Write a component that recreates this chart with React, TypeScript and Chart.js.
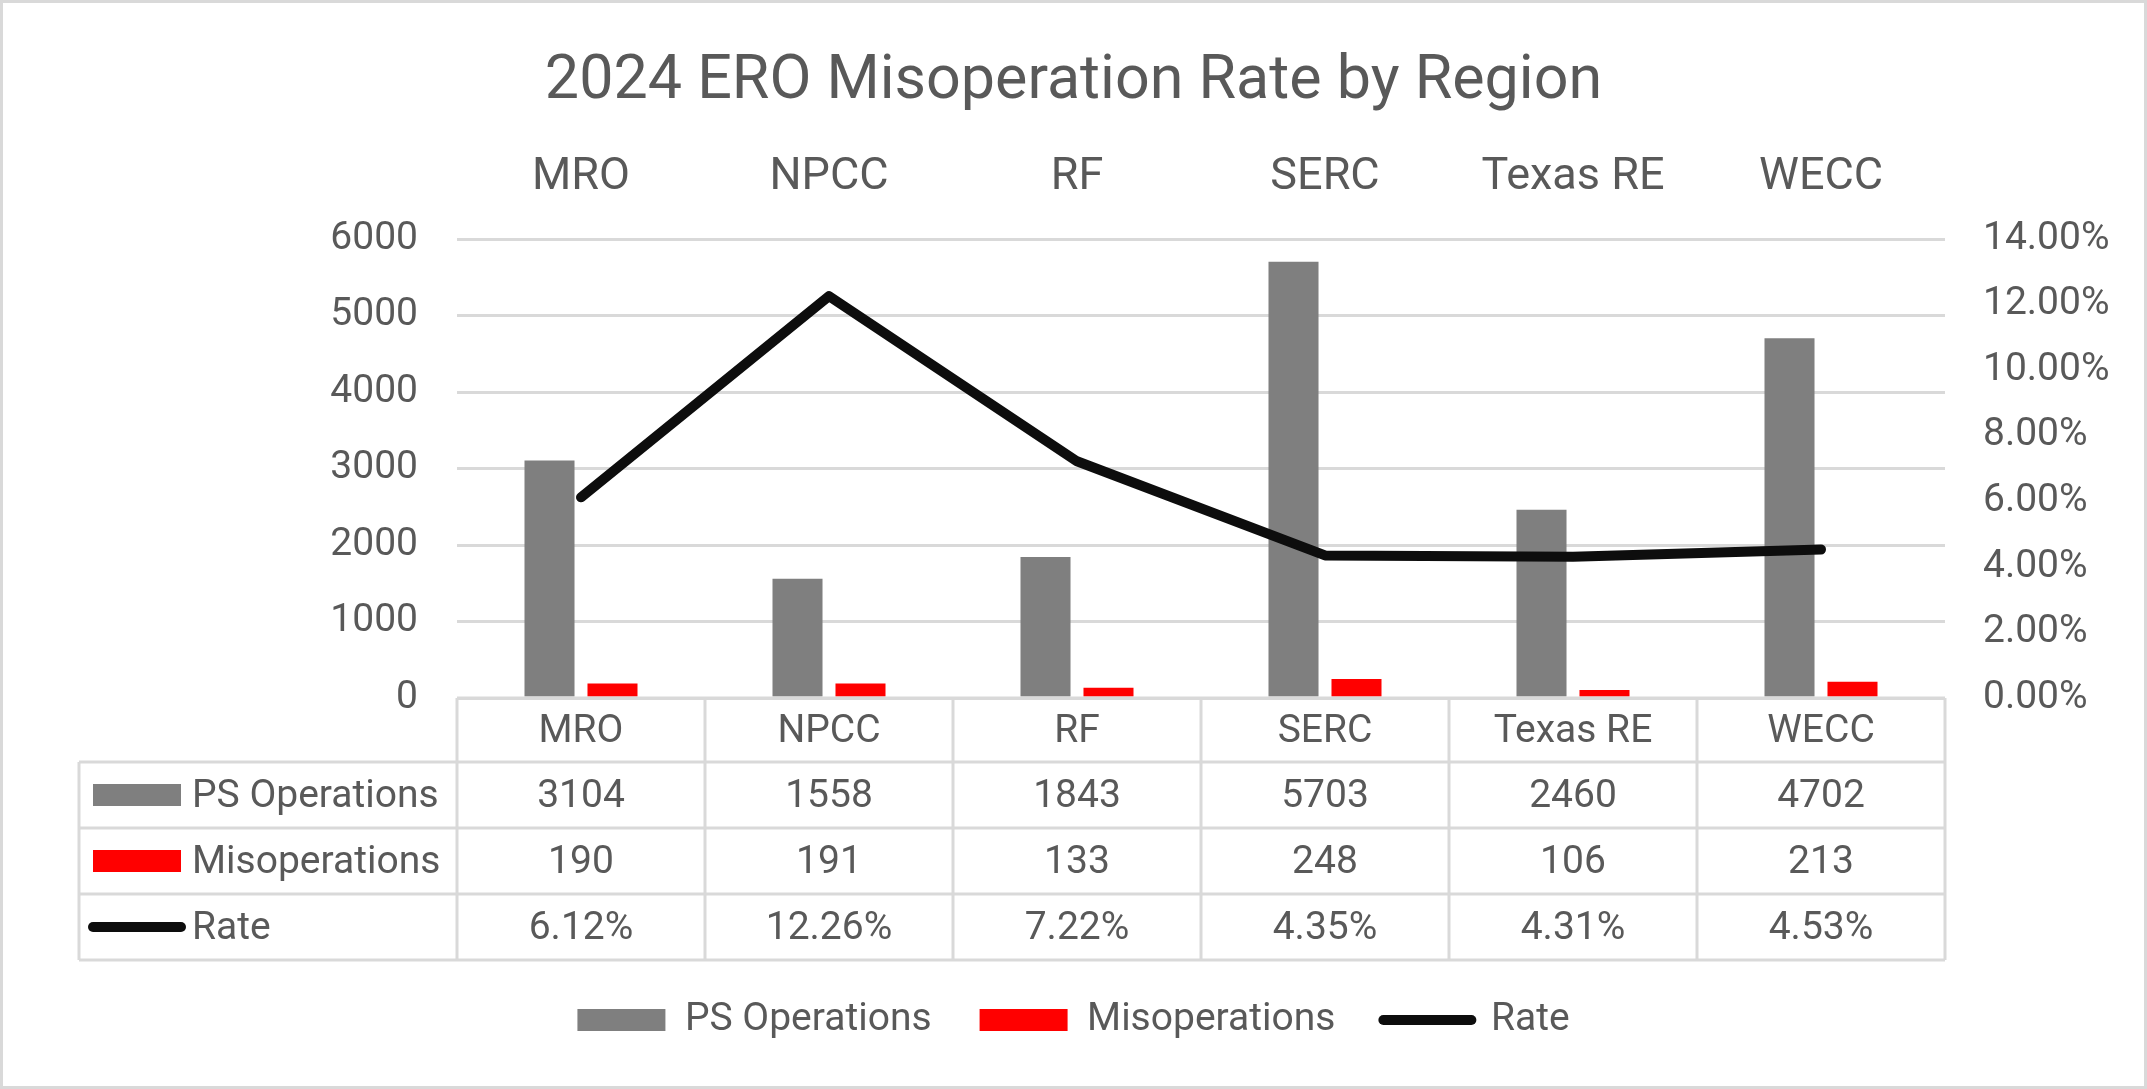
import { useEffect, useRef } from 'react'
import { Chart, registerables } from 'chart.js'

Chart.register(...registerables)
Chart.defaults.font.family = 'Roboto'

const TITLE = '2024 ERO Misoperation Rate by Region'
const REGIONS = ['MRO', 'NPCC', 'RF', 'SERC', 'Texas RE', 'WECC']
const PS_OPERATIONS = [3104, 1558, 1843, 5703, 2460, 4702]
const MISOPERATIONS = [190, 191, 133, 248, 106, 213]
const RATE = [6.12, 12.26, 7.22, 4.35, 4.31, 4.53]
const COUNT_TICKS = [0, 1000, 2000, 3000, 4000, 5000, 6000]
const RATE_TICKS = [0, 2, 4, 6, 8, 10, 12, 14]

const GRAY = '#7f7f7f'
const RED = '#ff0000'
const BLACK = '#0d0d0d'
const TEXT = '#595959'
const RULE = '#d9d9d9'
const W = 2147
const H = 1089
const BODY_SIZE = 39

const pct = (v: number) => `${v.toFixed(2)}%`

// white page + thin grey frame like the Excel chart area
const frame = {
  id: 'frame',
  beforeDraw(chart: Chart) {
    const { ctx, width, height } = chart
    ctx.save()
    ctx.fillStyle = '#ffffff'
    ctx.fillRect(0, 0, width, height)
    ctx.restore()
  },
  afterDraw(chart: Chart) {
    const { ctx, width, height } = chart
    ctx.save()
    ctx.strokeStyle = RULE
    ctx.lineWidth = 3
    ctx.strokeRect(1.5, 1.5, width - 3, height - 3)
    ctx.restore()
  },
}

// Excel style data table under the plot, columns taken from the x scale
const dataTable = {
  id: 'dataTable',
  afterDraw(chart: Chart) {
    const { ctx, chartArea } = chart
    const x = chart.scales.x
    const half = (chartArea.right - chartArea.left) / REGIONS.length / 2
    const top = chartArea.bottom
    const headH = 64
    const rowH = 66
    const left = 79
    const right = chartArea.right
    const rows = [
      { label: 'PS Operations', values: PS_OPERATIONS.map(String), color: GRAY, line: false },
      { label: 'Misoperations', values: MISOPERATIONS.map(String), color: RED, line: false },
      { label: 'Rate', values: RATE.map(pct), color: BLACK, line: true },
    ]
    const bottom = top + headH + rows.length * rowH

    ctx.save()
    ctx.strokeStyle = RULE
    ctx.lineWidth = 3
    ctx.beginPath()
    ctx.moveTo(chartArea.left, top)
    ctx.lineTo(right, top)
    for (let r = 0; r <= rows.length; r++) {
      const y = top + headH + r * rowH
      ctx.moveTo(left, y)
      ctx.lineTo(right, y)
    }
    REGIONS.forEach((_, i) => {
      const xl = x.getPixelForValue(i) - half
      ctx.moveTo(xl, top)
      ctx.lineTo(xl, bottom)
    })
    ctx.moveTo(right, top)
    ctx.lineTo(right, bottom)
    ctx.moveTo(left, top + headH)
    ctx.lineTo(left, bottom)
    ctx.stroke()

    ctx.font = `${BODY_SIZE}px Roboto`
    ctx.fillStyle = TEXT
    ctx.textBaseline = 'middle'
    ctx.textAlign = 'center'
    REGIONS.forEach((r, i) => ctx.fillText(r, x.getPixelForValue(i), top + headH / 2 + 2))

    rows.forEach((row, r) => {
      const cy = top + headH + r * rowH + rowH / 2
      ctx.fillStyle = TEXT
      ctx.textAlign = 'center'
      row.values.forEach((v, i) => ctx.fillText(v, x.getPixelForValue(i), cy + 2))
      ctx.textAlign = 'left'
      ctx.fillText(row.label, left + 113, cy + 2)
      if (row.line) {
        ctx.strokeStyle = row.color
        ctx.lineWidth = 10
        ctx.lineCap = 'round'
        ctx.beginPath()
        ctx.moveTo(left + 14, cy)
        ctx.lineTo(left + 102, cy)
        ctx.stroke()
      } else {
        ctx.fillStyle = row.color
        ctx.fillRect(left + 14, cy - 11, 88, 22)
      }
    })
    ctx.restore()
  },
}

export default function App() {
  const canvasRef = useRef<HTMLCanvasElement>(null)

  useEffect(() => {
    if (!canvasRef.current) return
    const chart = new Chart(canvasRef.current, {
      type: 'bar',
      data: {
        labels: REGIONS,
        datasets: [
          {
            type: 'bar',
            label: 'PS Operations',
            data: PS_OPERATIONS,
            backgroundColor: GRAY,
            yAxisID: 'y',
            order: 1,
            categoryPercentage: 0.508,
            barPercentage: 0.794,
          },
          {
            type: 'bar',
            label: 'Misoperations',
            data: MISOPERATIONS,
            backgroundColor: RED,
            yAxisID: 'y',
            order: 2,
            categoryPercentage: 0.508,
            barPercentage: 0.794,
          },
          {
            type: 'line',
            label: 'Rate',
            data: RATE,
            borderColor: BLACK,
            backgroundColor: BLACK,
            borderWidth: 10,
            borderJoinStyle: 'round',
            borderCapStyle: 'round',
            pointRadius: 0,
            tension: 0,
            yAxisID: 'y1',
            order: 0,
          },
        ],
      },
      options: {
        responsive: true,
        maintainAspectRatio: false,
        animation: false,
        events: [],
        layout: { padding: { top: 3, left: 3, right: 3, bottom: 39.5 } },
        plugins: {
          title: {
            display: true,
            text: TITLE,
            color: TEXT,
            font: { size: 61, weight: 'normal' },
            padding: { top: 43.4, bottom: 0 },
          },
          tooltip: { enabled: false },
          legend: {
            position: 'bottom',
            labels: {
              usePointStyle: true,
              pointStyleWidth: 88,
              boxHeight: 22,
              padding: 48,
              color: TEXT,
              font: { size: BODY_SIZE },
              sort: (a, b) => (a.datasetIndex ?? 0) - (b.datasetIndex ?? 0),
              generateLabels: (c) =>
                c.data.datasets.map((ds: any, i) => {
                  const isLine = ds.type === 'line'
                  return {
                    text: ds.label,
                    datasetIndex: i,
                    hidden: false,
                    fontColor: TEXT,
                    fillStyle: isLine ? 'rgba(0,0,0,0)' : ds.backgroundColor,
                    strokeStyle: isLine ? ds.borderColor : 'rgba(0,0,0,0)',
                    lineWidth: isLine ? 10 : 0,
                    lineCap: 'round',
                    pointStyle: isLine ? 'line' : 'rect',
                  }
                }),
            },
          },
        },
        scales: {
          x: {
            position: 'top',
            offset: true,
            grid: { display: false, drawTicks: false },
            border: { display: false },
            ticks: { color: TEXT, font: { size: 45 }, padding: 34, maxRotation: 0, autoSkip: false },
            afterFit: (s) => { s.height = 119.4 },
          },
          tbl: {
            type: 'category',
            position: 'bottom',
            offset: true,
            grid: { display: false, drawTicks: false },
            border: { display: false },
            ticks: { display: false },
            afterFit: (s) => { s.height = 254.5 },
          },
          y: {
            position: 'left',
            min: 0,
            max: 6000,
            grid: { color: RULE, lineWidth: 3, drawTicks: false },
            border: { display: false },
            ticks: { color: TEXT, font: { size: BODY_SIZE }, padding: 39, callback: (v) => String(v) },
            afterBuildTicks: (s) => { s.ticks = COUNT_TICKS.map((value) => ({ value })) },
            afterFit: (s) => { s.width = 454 },
          },
          y1: {
            position: 'right',
            min: 0,
            max: 14,
            grid: { display: false, drawTicks: false },
            border: { display: false },
            ticks: { color: TEXT, font: { size: BODY_SIZE }, padding: 38, callback: (v) => pct(Number(v)) },
            afterBuildTicks: (s) => { s.ticks = RATE_TICKS.map((value) => ({ value })) },
            afterFit: (s) => { s.width = 199 },
          },
        },
      },
      plugins: [frame, dataTable],
    })
    return () => chart.destroy()
  }, [])

  return (
    <div style={{ position: 'fixed', left: 0, top: 0, width: W, height: H }}>
      <canvas ref={canvasRef} />
    </div>
  )
}
